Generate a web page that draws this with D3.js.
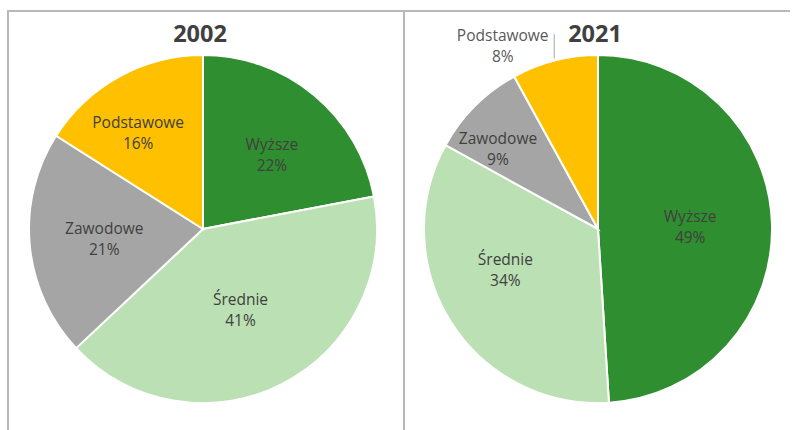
<!DOCTYPE html>
<html lang="pl">
  <head>
    <meta charset="UTF-8" />
    <title>Wykształcenie 2002 i 2021</title>
    <script src="https://d3js.org/d3.v7.min.js"></script>
    <style>
      body {
        margin: 0;
        background: #ffffff;
        font-family: "Open Sans", sans-serif;
      }
      .title {
        font-size: 23.5px;
        font-weight: bold;
        fill: #404040;
      }
      .label {
        font-size: 15.5px;
        fill: #404040;
      }
      .frame {
        stroke: #b8b8b8;
        stroke-width: 2;
        fill: none;
      }
    </style>
  </head>
  <body>
    <svg id="chart" width="793" height="430"></svg>

    <script>
      // Data
      const categories = ["Wyższe", "Średnie", "Zawodowe", "Podstawowe"];
      const values2002 = [22, 41, 21, 16];
      const values2021 = [49, 34, 9, 8];
      const years = ["2002", "2021"];

      const colors = ["#2f8e2f", "#bbe0b3", "#a5a5a5", "#ffc000"];

      // Label placement (fraction of radius, angle shift in degrees), Excel "best fit" style
      const labelRadius2002 = [0.585, 0.51, 0.57, 0.67];
      const labelShift2002 = [3, 2, 0, -5];
      const labelRadius2021 = [0.53, 0.58, 0.74, 1.19];
      const labelShift2021 = [0, 9, -6, -13];

      const svg = d3.select("#chart");
      const radius = 174;

      // Panel frames
      svg.append("path").attr("class", "frame").attr("d", "M8,430V11H790");
      svg.append("path").attr("class", "frame").attr("d", "M404,10V430");

      const pie = d3
        .pie()
        .sort(null)
        .value((d) => d);

      const arc = d3.arc().innerRadius(0).outerRadius(radius);

      function drawPie(cx, cy, year, values, labelRadius, labelShift) {
        const g = svg.append("g").attr("transform", `translate(${cx},${cy})`);
        const arcs = pie(values);

        g.selectAll("path.slice")
          .data(arcs)
          .enter()
          .append("path")
          .attr("class", "slice")
          .attr("d", arc)
          .attr("fill", (d, i) => colors[i])
          .attr("stroke", "#ffffff")
          .attr("stroke-width", 2);

        g.append("text")
          .attr("class", "title")
          .attr("text-anchor", "middle")
          .attr("x", -3)
          .attr("y", 42 - cy)
          .text(year);

        arcs.forEach((d, i) => {
          const a = (d.startAngle + d.endAngle) / 2 + (labelShift[i] * Math.PI) / 180;
          const r = radius * labelRadius[i];
          const x = Math.sin(a) * r;
          const y = -Math.cos(a) * r;
          const outside = labelRadius[i] > 1;

          const t = g
            .append("text")
            .attr("class", "label")
            .attr("text-anchor", "middle")
            .style("fill", outside ? "#595959" : "#404040");
          t.append("tspan").attr("x", x).attr("y", y - 4).text(categories[i]);
          t.append("tspan").attr("x", x).attr("y", y + 17).text(values[i] + "%");

          if (outside) {
            // leader line from the slice edge up to the label
            const mid = (d.startAngle + d.endAngle) / 2;
            const ex = Math.sin(mid) * (radius + 2);
            const ey = -Math.cos(mid) * (radius + 2);
            g.append("line")
              .attr("x1", ex)
              .attr("y1", ey)
              .attr("x2", ex)
              .attr("y2", y - 11)
              .attr("stroke", "#a6a6a6")
              .attr("stroke-width", 1);
          }
        });
      }

      drawPie(203, 229, years[0], values2002, labelRadius2002, labelShift2002);
      drawPie(598, 229, years[1], values2021, labelRadius2021, labelShift2021);
    </script>
  </body>
</html>
